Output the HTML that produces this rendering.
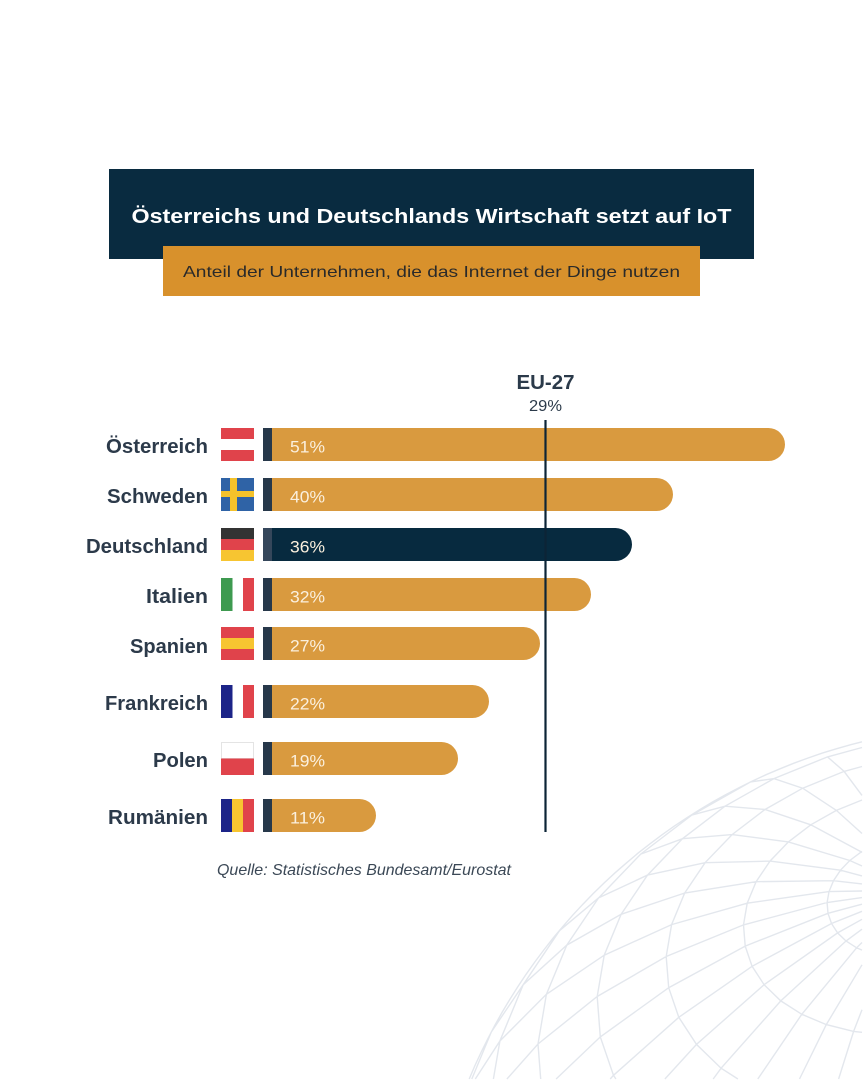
<!DOCTYPE html>
<html><head><meta charset="utf-8">
<style>
html,body{margin:0;padding:0;background:#fff;width:863px;height:1080px;overflow:hidden;}
svg{display:block;}
text{font-family:"Liberation Sans",Arial,sans-serif;}
</style></head>
<body>
<svg id="root" width="863" height="1080" viewBox="0 0 863 1080" xmlns="http://www.w3.org/2000/svg" style="overflow:hidden">
<rect width="863" height="1080" fill="#ffffff"/>
<g id="globe" fill="none" stroke="#e3e7ed" stroke-width="1.4"></g>

<!-- Title -->
<rect x="109" y="169" width="645" height="90" fill="#092b40"/>
<text x="431.5" y="223" text-anchor="middle" font-size="20" font-weight="bold" fill="#ffffff" textLength="600" lengthAdjust="spacingAndGlyphs">Österreichs und Deutschlands Wirtschaft setzt auf IoT</text>
<rect x="163" y="246" width="537" height="50" fill="#d8912c"/>
<text x="183" y="277" font-size="16" fill="#2a2a2a" textLength="497" lengthAdjust="spacingAndGlyphs">Anteil der Unternehmen, die das Internet der Dinge nutzen</text>

<!-- EU label -->
<text x="545.5" y="389" text-anchor="middle" font-size="20" font-weight="bold" fill="#2b3a4a" textLength="58" lengthAdjust="spacingAndGlyphs">EU-27</text>
<text x="545.5" y="411" text-anchor="middle" font-size="16" fill="#2b3a4a" textLength="33" lengthAdjust="spacingAndGlyphs">29%</text>

<!-- Labels -->
<g font-size="20" font-weight="bold" fill="#2c3a4a" text-anchor="end">
<text x="208" y="453" textLength="102" lengthAdjust="spacingAndGlyphs">Österreich</text>
<text x="208" y="503" textLength="101" lengthAdjust="spacingAndGlyphs">Schweden</text>
<text x="208" y="553" textLength="122" lengthAdjust="spacingAndGlyphs">Deutschland</text>
<text x="208" y="603" textLength="62" lengthAdjust="spacingAndGlyphs">Italien</text>
<text x="208" y="653" textLength="78" lengthAdjust="spacingAndGlyphs">Spanien</text>
<text x="208" y="710" textLength="103" lengthAdjust="spacingAndGlyphs">Frankreich</text>
<text x="208" y="767" textLength="55" lengthAdjust="spacingAndGlyphs">Polen</text>
<text x="208" y="824" textLength="100" lengthAdjust="spacingAndGlyphs">Rumänien</text>
</g>

<!-- Flags -->
<rect x="221" y="428" width="33" height="11" fill="#e0434b"/>
<rect x="221" y="450" width="33" height="11" fill="#e0434b"/>
<rect x="221" y="478" width="33" height="33" fill="#2f63a6"/>
<rect x="230" y="478" width="7" height="33" fill="#f4c22b"/>
<rect x="221" y="491" width="33" height="6" fill="#f4c22b"/>
<rect x="221" y="528" width="33" height="11" fill="#333333"/>
<rect x="221" y="539" width="33" height="11" fill="#e0434b"/>
<rect x="221" y="550" width="33" height="11" fill="#f7c531"/>
<rect x="221" y="578" width="11.5" height="33" fill="#3e9a50"/>
<rect x="243" y="578" width="11" height="33" fill="#e0434b"/>
<rect x="221" y="627" width="33" height="11" fill="#e0434b"/>
<rect x="221" y="638" width="33" height="11" fill="#f7c531"/>
<rect x="221" y="649" width="33" height="11" fill="#e0434b"/>
<rect x="221" y="685" width="11.5" height="33" fill="#1c2488"/>
<rect x="243" y="685" width="11" height="33" fill="#e0434b"/>
<rect x="221.5" y="742.5" width="32" height="16" fill="#ffffff" stroke="#e4e4e4" stroke-width="1"/>
<rect x="221" y="758.5" width="33" height="16.5" fill="#e0434b"/>
<rect x="221" y="799" width="11" height="33" fill="#1c2488"/>
<rect x="232" y="799" width="11" height="33" fill="#f7c531"/>
<rect x="243" y="799" width="11" height="33" fill="#e0434b"/>

<!-- Bars -->
<g fill="#d99a3f">
<path d="M263 428 H768.5 A16.5 16.5 0 0 1 768.5 461 H263 Z"/>
<path d="M263 478 H656.5 A16.5 16.5 0 0 1 656.5 511 H263 Z"/>
<path d="M263 578 H574.5 A16.5 16.5 0 0 1 574.5 611 H263 Z"/>
<path d="M263 627 H523.5 A16.5 16.5 0 0 1 523.5 660 H263 Z"/>
<path d="M263 685 H472.5 A16.5 16.5 0 0 1 472.5 718 H263 Z"/>
<path d="M263 742 H441.5 A16.5 16.5 0 0 1 441.5 775 H263 Z"/>
<path d="M263 799 H359.5 A16.5 16.5 0 0 1 359.5 832 H263 Z"/>
</g>
<path d="M263 528 H615.5 A16.5 16.5 0 0 1 615.5 561 H263 Z" fill="#072a3f"/>
<g fill="#27384a">
<rect x="263" y="428" width="9" height="33"/>
<rect x="263" y="478" width="9" height="33"/>
<rect x="263" y="578" width="9" height="33"/>
<rect x="263" y="627" width="9" height="33"/>
<rect x="263" y="685" width="9" height="33"/>
<rect x="263" y="742" width="9" height="33"/>
<rect x="263" y="799" width="9" height="33"/>
</g>
<rect x="263" y="528" width="9" height="33" fill="#35475b"/>

<!-- Percent values -->
<g font-size="16.5" fill="#fbf0de">
<text x="290" y="452.5" textLength="35" lengthAdjust="spacingAndGlyphs">51%</text>
<text x="290" y="502.5" textLength="35" lengthAdjust="spacingAndGlyphs">40%</text>
<text x="290" y="552.5" textLength="35" lengthAdjust="spacingAndGlyphs">36%</text>
<text x="290" y="602.5" textLength="35" lengthAdjust="spacingAndGlyphs">32%</text>
<text x="290" y="651.5" textLength="35" lengthAdjust="spacingAndGlyphs">27%</text>
<text x="290" y="709.5" textLength="35" lengthAdjust="spacingAndGlyphs">22%</text>
<text x="290" y="766.5" textLength="35" lengthAdjust="spacingAndGlyphs">19%</text>
<text x="290" y="823.5" textLength="35" lengthAdjust="spacingAndGlyphs">11%</text>
</g>

<!-- EU line -->
<line x1="545.5" y1="420" x2="545.5" y2="832" stroke="#0c2436" stroke-width="2.2"/>

<!-- Source -->
<text x="217" y="875" font-size="16" font-style="italic" fill="#3b4856" textLength="294" lengthAdjust="spacingAndGlyphs">Quelle: Statistisches Bundesamt/Eurostat</text>
</svg>
<script>
(function(){
var g=document.getElementById('globe');
var W=862,H=1079;
var S=[1000,1300],R=575;
var n=[-85/575,-410/575,0];n[2]=Math.sqrt(1-n[0]*n[0]-n[1]*n[1]);
var u=[n[1],-n[0],0];var lu=Math.hypot(u[0],u[1]);u=[u[0]/lu,u[1]/lu,0];
var v=[n[1]*u[2]-n[2]*u[1],n[2]*u[0]-n[0]*u[2],n[0]*u[1]-n[1]*u[0]];
function pt(lat,lon){var cl=Math.cos(lat),sl=Math.sin(lat),co=Math.cos(lon),so=Math.sin(lon);
return [0,1,2].map(function(i){return cl*(co*u[i]+so*v[i])+sl*n[i];});}
function clip(x0,y0,x1,y1){
  var t0=0,t1=1,dx=x1-x0,dy=y1-y0;
  var p=[-dx,dx,-dy,dy],q=[x0-1,W-x0,y0-1,H-y0];
  for(var i=0;i<4;i++){
    if(p[i]===0){if(q[i]<0)return null;}
    else{var r=q[i]/p[i];if(p[i]<0){if(r>t1)return null;if(r>t0)t0=r;}else{if(r<t0)return null;if(r<t1)t1=r;}}
  }
  return [x0+t0*dx,y0+t0*dy,x0+t1*dx,y0+t1*dy];
}
var d='';var last=null;
function seg(a,b){
  var c=clip(a[0],a[1],b[0],b[1]);if(!c)return;
  if(!last||Math.abs(last[0]-c[0])>0.01||Math.abs(last[1]-c[1])>0.01){d+='M'+c[0].toFixed(1)+' '+c[1].toFixed(1);}
  d+='L'+c[2].toFixed(1)+' '+c[3].toFixed(1);last=[c[2],c[3]];
}
function add(f,N){var prev=null;last=null;for(var i=0;i<=N;i++){var p=f(i/N);if(p[2]>=-0.02){var q=[S[0]+R*p[0],S[1]+R*p[1]];if(prev)seg(prev,q);prev=q;}else{prev=null;}}}
for(var la=-81;la<=81;la+=9){(function(L){add(function(t){return pt(L,t*2*Math.PI);},36);})(la*Math.PI/180);}
for(var lo=0;lo<360;lo+=10){(function(O){add(function(t){return pt(-Math.PI/2+t*Math.PI,O);},20);})(lo*Math.PI/180);}
// limb
var prev=null;last=null;
for(var i=0;i<=240;i++){var a=i/240*2*Math.PI;var q=[S[0]+R*Math.cos(a),S[1]+R*Math.sin(a)];if(prev)seg(prev,q);prev=q;}
var p=document.createElementNS('http://www.w3.org/2000/svg','path');p.setAttribute('d',d);g.appendChild(p);
})();
</script>
</body></html>
